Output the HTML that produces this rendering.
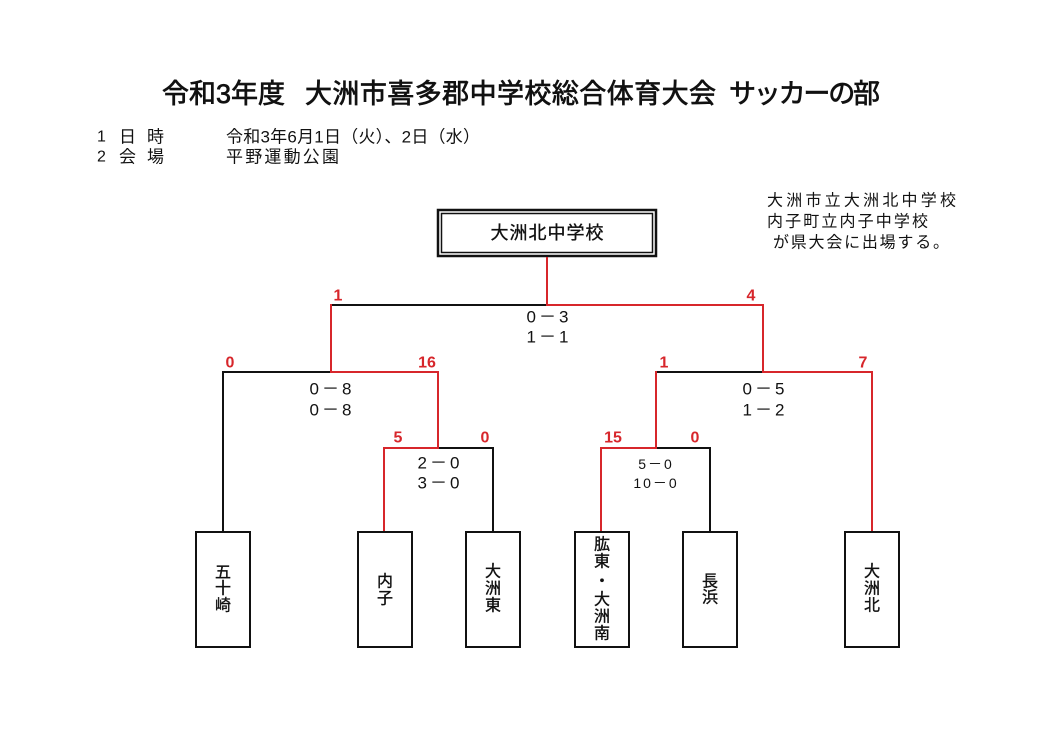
<!DOCTYPE html>
<html>
<head>
<meta charset="utf-8">
<style>
  html,body{margin:0;padding:0;background:#fff;}
  body{width:1052px;height:729px;overflow:hidden;}
  svg{display:block;}
  text{font-family:"Liberation Sans","Noto Sans CJK JP",sans-serif;fill:#111;}
  .r{fill:#d7262b;font-weight:bold;font-size:16px;}
  .sc{font-size:17px;letter-spacing:3px;}
  .sm{font-size:14px;letter-spacing:2px;}
  .bx{font-size:16px;stroke:#111;stroke-width:0.35px;}
  .tt{font-size:27px;stroke:#111;stroke-width:0.7px;}
</style>
</head>
<body>
<svg width="1052" height="729" viewBox="0 0 1052 729" xmlns="http://www.w3.org/2000/svg">
  <!-- Title -->
  <text class="tt" x="162" y="94" dominant-baseline="central" textLength="123" lengthAdjust="spacing">令和3年度</text>
  <text class="tt" x="305" y="94" dominant-baseline="central" textLength="411" lengthAdjust="spacing">大洲市喜多郡中学校総合体育大会</text>
  <text class="tt" x="729" y="94" dominant-baseline="central" textLength="151" lengthAdjust="spacing">サッカーの部</text>

  <!-- Info -->
  <text x="97" y="137" font-size="16" dominant-baseline="central">1</text>
  <text x="119" y="137" font-size="17" dominant-baseline="central">日</text>
  <text x="147" y="137" font-size="17" dominant-baseline="central">時</text>
  <text x="226" y="137" font-size="17" dominant-baseline="central" textLength="254" lengthAdjust="spacing">令和3年6月1日（火）、2日（水）</text>
  <text x="97" y="157" font-size="16" dominant-baseline="central">2</text>
  <text x="119" y="157" font-size="17" dominant-baseline="central">会</text>
  <text x="147" y="157" font-size="17" dominant-baseline="central">場</text>
  <text x="226" y="157" font-size="17" dominant-baseline="central" textLength="113" lengthAdjust="spacing">平野運動公園</text>

  <!-- Note -->
  <text x="767" y="201" font-size="16" dominant-baseline="central" textLength="189" lengthAdjust="spacing">大洲市立大洲北中学校</text>
  <text x="767" y="222" font-size="16" dominant-baseline="central" textLength="161" lengthAdjust="spacing">内子町立内子中学校</text>
  <text x="773" y="243" font-size="16" dominant-baseline="central" textLength="176" lengthAdjust="spacing">が県大会に出場する。</text>

  <!-- Champion box -->
  <rect x="438" y="210" width="218" height="46" fill="none" stroke="#111" stroke-width="2.5"/>
  <rect x="441.5" y="213.5" width="211" height="39" fill="none" stroke="#111" stroke-width="1.5"/>
  <text x="547" y="233" font-size="18" stroke="#111" stroke-width="0.35" text-anchor="middle" dominant-baseline="central" textLength="113" lengthAdjust="spacing">大洲北中学校</text>

  <!-- Black lines -->
  <g stroke="#111" stroke-width="2" fill="none" stroke-linecap="square">
    <line x1="331" y1="305" x2="547" y2="305"/>
    <line x1="223" y1="372" x2="331" y2="372"/>
    <line x1="223" y1="372" x2="223" y2="531"/>
    <line x1="438" y1="448" x2="493" y2="448"/>
    <line x1="493" y1="448" x2="493" y2="531"/>
    <line x1="656" y1="372" x2="763" y2="372"/>
    <line x1="656" y1="448" x2="710" y2="448"/>
    <line x1="710" y1="448" x2="710" y2="531"/>
  </g>
  <!-- Red lines -->
  <g stroke="#d7262b" stroke-width="2" fill="none" stroke-linecap="square">
    <line x1="547" y1="258" x2="547" y2="305"/>
    <line x1="547" y1="305" x2="763" y2="305"/>
    <line x1="331" y1="305" x2="331" y2="372"/>
    <line x1="763" y1="305" x2="763" y2="372"/>
    <line x1="331" y1="372" x2="438" y2="372"/>
    <line x1="438" y1="372" x2="438" y2="448"/>
    <line x1="384" y1="448" x2="438" y2="448"/>
    <line x1="384" y1="448" x2="384" y2="530"/>
    <line x1="763" y1="372" x2="872" y2="372"/>
    <line x1="872" y1="372" x2="872" y2="530"/>
    <line x1="656" y1="372" x2="656" y2="448"/>
    <line x1="601" y1="448" x2="656" y2="448"/>
    <line x1="601" y1="448" x2="601" y2="530"/>
  </g>

  <!-- Red seed labels -->
  <text class="r" x="338" y="296" text-anchor="middle" dominant-baseline="central">1</text>
  <text class="r" x="751" y="296" text-anchor="middle" dominant-baseline="central">4</text>
  <text class="r" x="230" y="363" text-anchor="middle" dominant-baseline="central">0</text>
  <text class="r" x="427" y="363" text-anchor="middle" dominant-baseline="central">16</text>
  <text class="r" x="664" y="363" text-anchor="middle" dominant-baseline="central">1</text>
  <text class="r" x="863" y="363" text-anchor="middle" dominant-baseline="central">7</text>
  <text class="r" x="398" y="438" text-anchor="middle" dominant-baseline="central">5</text>
  <text class="r" x="485" y="438" text-anchor="middle" dominant-baseline="central">0</text>
  <text class="r" x="613" y="438" text-anchor="middle" dominant-baseline="central">15</text>
  <text class="r" x="695" y="438" text-anchor="middle" dominant-baseline="central">0</text>

  <!-- Scores -->
  <text class="sc" x="549" y="317" text-anchor="middle" dominant-baseline="central">0－3</text>
  <text class="sc" x="549" y="337" text-anchor="middle" dominant-baseline="central">1－1</text>
  <text class="sc" x="332" y="389" text-anchor="middle" dominant-baseline="central">0－8</text>
  <text class="sc" x="332" y="410" text-anchor="middle" dominant-baseline="central">0－8</text>
  <text class="sc" x="440" y="463" text-anchor="middle" dominant-baseline="central">2－0</text>
  <text class="sc" x="440" y="483" text-anchor="middle" dominant-baseline="central">3－0</text>
  <text class="sc" x="765" y="389" text-anchor="middle" dominant-baseline="central">0－5</text>
  <text class="sc" x="765" y="410" text-anchor="middle" dominant-baseline="central">1－2</text>
  <text class="sm" x="656" y="464" text-anchor="middle" dominant-baseline="central">5－0</text>
  <text class="sm" x="656" y="483" text-anchor="middle" dominant-baseline="central">10－0</text>

  <!-- Team boxes -->
  <g fill="#fff" stroke="#111" stroke-width="2">
    <rect x="196" y="532" width="54" height="115"/>
    <rect x="358" y="532" width="54" height="115"/>
    <rect x="466" y="532" width="54" height="115"/>
    <rect x="575" y="532" width="54" height="115"/>
    <rect x="683" y="532" width="54" height="115"/>
    <rect x="845" y="532" width="54" height="115"/>
  </g>
  <g>
    <text class="bx" x="223" y="573" text-anchor="middle" dominant-baseline="central">五</text>
    <text class="bx" x="223" y="589" text-anchor="middle" dominant-baseline="central">十</text>
    <text class="bx" x="223" y="606" text-anchor="middle" dominant-baseline="central">崎</text>

    <text class="bx" x="385" y="582" text-anchor="middle" dominant-baseline="central">内</text>
    <text class="bx" x="385" y="599" text-anchor="middle" dominant-baseline="central">子</text>

    <text class="bx" x="493" y="572" text-anchor="middle" dominant-baseline="central">大</text>
    <text class="bx" x="493" y="589" text-anchor="middle" dominant-baseline="central">洲</text>
    <text class="bx" x="493" y="606" text-anchor="middle" dominant-baseline="central">東</text>

    <text class="bx" x="602" y="545" text-anchor="middle" dominant-baseline="central">肱</text>
    <text class="bx" x="602" y="562" text-anchor="middle" dominant-baseline="central">東</text>
    <text class="bx" x="602" y="582" text-anchor="middle" dominant-baseline="central">・</text>
    <text class="bx" x="602" y="600" text-anchor="middle" dominant-baseline="central">大</text>
    <text class="bx" x="602" y="617" text-anchor="middle" dominant-baseline="central">洲</text>
    <text class="bx" x="602" y="634" text-anchor="middle" dominant-baseline="central">南</text>

    <text class="bx" x="710" y="582" text-anchor="middle" dominant-baseline="central">長</text>
    <text class="bx" x="710" y="598" text-anchor="middle" dominant-baseline="central">浜</text>

    <text class="bx" x="872" y="572" text-anchor="middle" dominant-baseline="central">大</text>
    <text class="bx" x="872" y="589" text-anchor="middle" dominant-baseline="central">洲</text>
    <text class="bx" x="872" y="606" text-anchor="middle" dominant-baseline="central">北</text>
  </g>
</svg>
</body>
</html>
